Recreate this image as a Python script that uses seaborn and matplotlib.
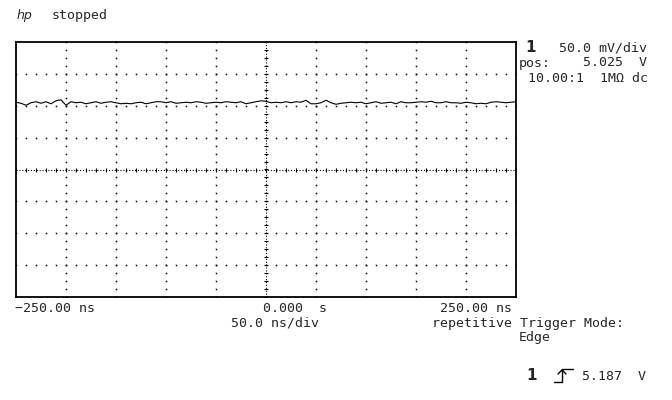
import matplotlib
matplotlib.use("Agg")
import matplotlib.pyplot as plt
from matplotlib.lines import Line2D
import seaborn as sns
import pandas as pd
import numpy as np

# time base: 50 ns/div, 10 div ; channel 1: 50 mV/div, offset 5.025 V, 8 div
t_ns = np.arange(-250, 251, 5)
volts = [5.1305, 5.1289, 5.1258, 5.1297, 5.1313, 5.1289, 5.1313, 5.1281, 5.1328, 5.1344,
         5.1258, 5.1313, 5.1297, 5.1305, 5.1281, 5.1297, 5.1313, 5.1289, 5.1305, 5.1313,
         5.1297, 5.1281, 5.1289, 5.1281, 5.1297, 5.1305, 5.1281, 5.1297, 5.1313, 5.1313,
         5.1297, 5.1313, 5.1289, 5.1297, 5.1305, 5.1297, 5.1313, 5.1305, 5.1289, 5.1297,
         5.1305, 5.1297, 5.1313, 5.1305, 5.1297, 5.1313, 5.1281, 5.1297, 5.1313, 5.1328,
         5.1320, 5.1297, 5.1305, 5.1297, 5.1313, 5.1297, 5.1313, 5.1305, 5.1336, 5.1281,
         5.1281, 5.1297, 5.1336, 5.1297, 5.1273, 5.1289, 5.1297, 5.1305, 5.1297, 5.1305,
         5.1281, 5.1297, 5.1313, 5.1289, 5.1297, 5.1305, 5.1281, 5.1313, 5.1297, 5.1297,
         5.1305, 5.1313, 5.1305, 5.1320, 5.1297, 5.1297, 5.1313, 5.1297, 5.1297, 5.1289,
         5.1305, 5.1297, 5.1281, 5.1289, 5.1281, 5.1305, 5.1313, 5.1305, 5.1297, 5.1305,
         5.1313]

offset_v = 5.025
v_div = 0.05
t_div = 50

df = pd.DataFrame({"t": t_ns, "v": volts})

sns.set_style("white")
plt.rcParams["font.family"] = ["DejaVu Sans Mono", "DejaVu Sans"]

W, H = 672, 400
fig = plt.figure(figsize=(W / 100, H / 100), dpi=100)
ax = fig.add_axes([16 / W, 1 - 297 / H, 500 / W, 255 / H])

ax.set_xlim(-5 * t_div, 5 * t_div)
ax.set_ylim(offset_v - 4 * v_div, offset_v + 4 * v_div)

# dotted graticule
dot = dict(marker="s", ms=1.1, mew=0, color="black", linestyle="none")
ydots = np.arange(offset_v - 4 * v_div, offset_v + 4 * v_div + 1e-9, v_div / 4)
xdots = np.arange(-5 * t_div, 5 * t_div + 1e-9, t_div / 5)
for k in range(-4, 5):
    if k != 0:
        ax.plot(np.full(len(ydots), k * t_div), ydots, **dot)
for k in range(-3, 4):
    if k != 0:
        ax.plot(xdots, np.full(len(xdots), offset_v + k * v_div), **dot)

# center axes, denser with small ticks
ax.plot([-250, 250], [offset_v, offset_v], color="black", lw=0.8, linestyle=(0, (1, 1.6)))
ax.plot([0, 0], [ydots[0], ydots[-1]], color="black", lw=0.8, linestyle=(0, (1, 1.6)))
ax.plot(xdots, np.full(len(xdots), offset_v), marker="|", ms=3.5, mew=0.8, color="black", linestyle="none")
ax.plot(np.zeros(len(ydots)), ydots, marker="_", ms=3.5, mew=0.8, color="black", linestyle="none")

sns.lineplot(data=df, x="t", y="v", ax=ax, color="black", linewidth=0.8)

ax.set(xlabel=None, ylabel=None, xticks=[], yticks=[])
for s in ax.spines.values():
    s.set_color("black")
    s.set_linewidth(1.3)


def txt(x, y, s, **kw):
    kw.setdefault("fontsize", 9.5)
    kw.setdefault("va", "center")
    fig.text(x / W, 1 - y / H, s, **kw)


txt(17, 15, "hp", style="italic", family="DejaVu Sans", fontsize=9)
txt(52, 15, "stopped")

txt(525, 48, "1", fontweight="bold", family="DejaVu Sans", fontsize=11)
txt(647, 48, "50.0 mV/div", ha="right")
txt(519, 63, "pos:")
txt(647, 63, "5.025  V", ha="right")
txt(648, 78, "10.00:1  1M\u03a9 dc", ha="right")

txt(15, 308, "\u2212250.00 ns")
txt(263, 308, "0.000  s")
txt(512, 308, "250.00 ns", ha="right")
txt(231, 323, "50.0 ns/div")
txt(432, 323, "repetitive Trigger Mode:")
txt(519, 337, "Edge")

txt(526, 376, "1", fontweight="bold", family="DejaVu Sans", fontsize=11)
txt(646, 376, "5.187  V", ha="right")

# rising edge trigger symbol
def px(x, y):
    return x / W, 1 - y / H

xs, ys = zip(px(554, 382), px(562, 382), px(562, 369), px(573, 369))
fig.add_artist(Line2D(xs, ys, color="black", lw=1.0))
xs, ys = zip(px(558, 374), px(562, 370), px(566, 374))
fig.add_artist(Line2D(xs, ys, color="black", lw=1.0))

fig.savefig("out.png", dpi=100, facecolor="white")
